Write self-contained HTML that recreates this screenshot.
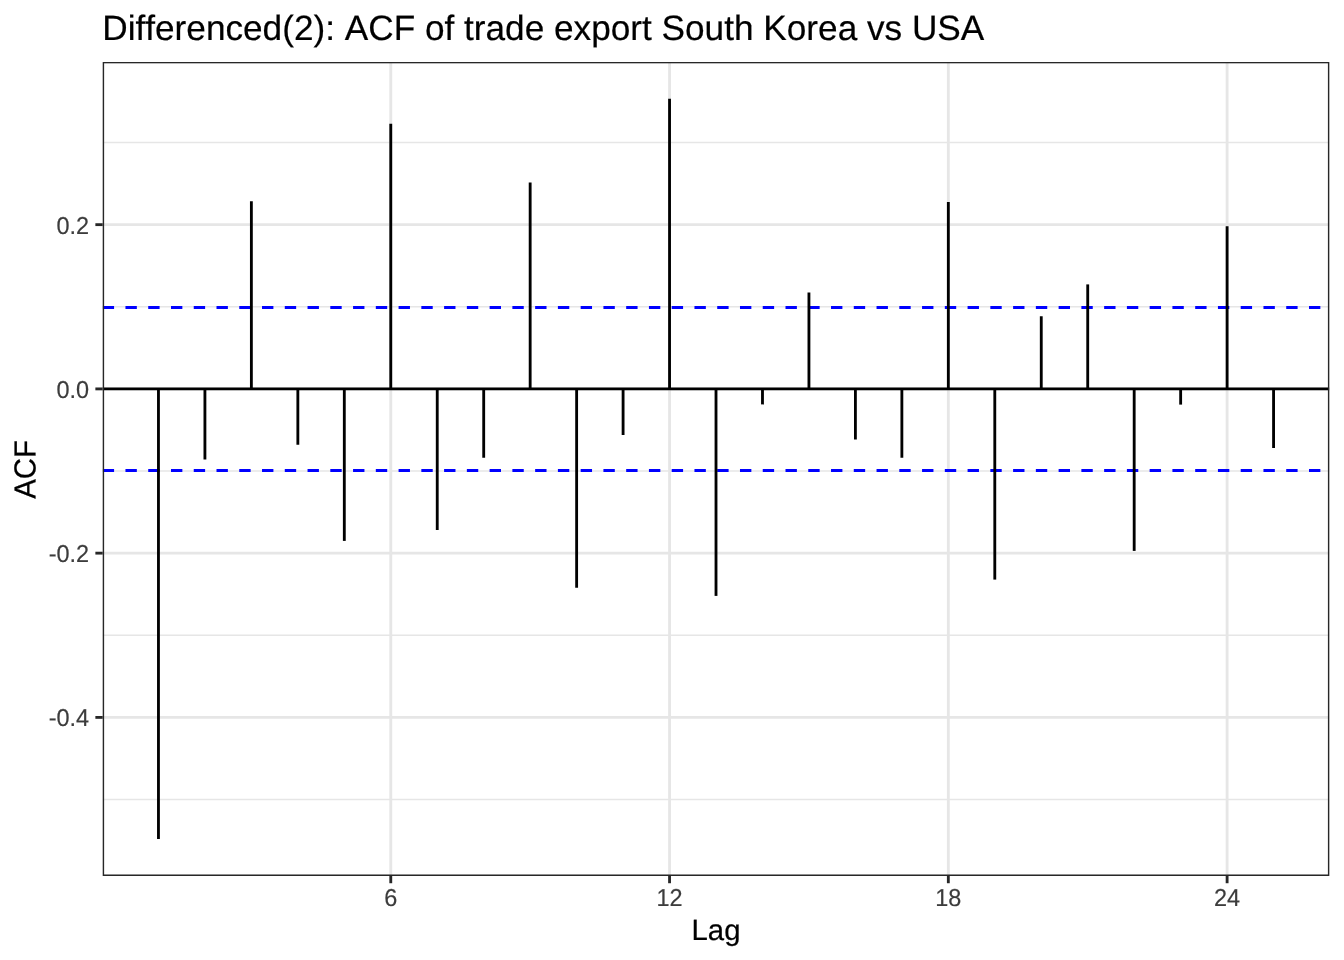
<!DOCTYPE html>
<html><head><meta charset="utf-8"><title>ACF plot</title>
<style>
html,body{margin:0;padding:0;background:#fff;}
body{width:1344px;height:960px;overflow:hidden;font-family:"Liberation Sans",sans-serif;}
svg{display:block;will-change:transform;}
text{font-family:"Liberation Sans",sans-serif;text-rendering:geometricPrecision;font-kerning:none;}
</style></head><body>
<svg width="1344" height="960" viewBox="0 0 1344 960">
<rect x="0" y="0" width="1344" height="960" fill="#ffffff"/>
<defs><clipPath id="panel"><rect x="102.70" y="61.90" width="1226.63" height="814.00"/></clipPath></defs>
<g clip-path="url(#panel)">
<line x1="102.70" x2="1329.33" y1="142.52" y2="142.52" stroke="#E6E6E6" stroke-width="1.423"/>
<line x1="102.70" x2="1329.33" y1="306.77" y2="306.77" stroke="#E6E6E6" stroke-width="1.423"/>
<line x1="102.70" x2="1329.33" y1="471.02" y2="471.02" stroke="#E6E6E6" stroke-width="1.423"/>
<line x1="102.70" x2="1329.33" y1="635.27" y2="635.27" stroke="#E6E6E6" stroke-width="1.423"/>
<line x1="102.70" x2="1329.33" y1="799.52" y2="799.52" stroke="#E6E6E6" stroke-width="1.423"/>
<line x1="102.70" x2="1329.33" y1="224.65" y2="224.65" stroke="#E6E6E6" stroke-width="2.845"/>
<line x1="102.70" x2="1329.33" y1="388.90" y2="388.90" stroke="#E6E6E6" stroke-width="2.845"/>
<line x1="102.70" x2="1329.33" y1="553.15" y2="553.15" stroke="#E6E6E6" stroke-width="2.845"/>
<line x1="102.70" x2="1329.33" y1="717.40" y2="717.40" stroke="#E6E6E6" stroke-width="2.845"/>
<line x1="390.77" x2="390.77" y1="61.90" y2="875.90" stroke="#E6E6E6" stroke-width="2.845"/>
<line x1="669.55" x2="669.55" y1="61.90" y2="875.90" stroke="#E6E6E6" stroke-width="2.845"/>
<line x1="948.33" x2="948.33" y1="61.90" y2="875.90" stroke="#E6E6E6" stroke-width="2.845"/>
<line x1="1227.11" x2="1227.11" y1="61.90" y2="875.90" stroke="#E6E6E6" stroke-width="2.845"/>
<line x1="102.70" x2="1329.33" y1="307.50" y2="307.50" stroke="#0000FF" stroke-width="2.845" stroke-dasharray="11.380 11.380"/>
<line x1="102.70" x2="1329.33" y1="470.50" y2="470.50" stroke="#0000FF" stroke-width="2.845" stroke-dasharray="11.380 11.380"/>
<line x1="102.70" x2="1329.33" y1="388.90" y2="388.90" stroke="#000" stroke-width="2.845"/>
<line x1="158.46" x2="158.46" y1="388.90" y2="838.90" stroke="#000" stroke-width="2.845"/>
<line x1="204.92" x2="204.92" y1="388.90" y2="459.40" stroke="#000" stroke-width="2.845"/>
<line x1="251.38" x2="251.38" y1="388.90" y2="201.25" stroke="#000" stroke-width="2.845"/>
<line x1="297.85" x2="297.85" y1="388.90" y2="444.75" stroke="#000" stroke-width="2.845"/>
<line x1="344.31" x2="344.31" y1="388.90" y2="540.90" stroke="#000" stroke-width="2.845"/>
<line x1="390.77" x2="390.77" y1="388.90" y2="123.75" stroke="#000" stroke-width="2.845"/>
<line x1="437.24" x2="437.24" y1="388.90" y2="530.00" stroke="#000" stroke-width="2.845"/>
<line x1="483.70" x2="483.70" y1="388.90" y2="457.75" stroke="#000" stroke-width="2.845"/>
<line x1="530.16" x2="530.16" y1="388.90" y2="182.50" stroke="#000" stroke-width="2.845"/>
<line x1="576.63" x2="576.63" y1="388.90" y2="587.75" stroke="#000" stroke-width="2.845"/>
<line x1="623.09" x2="623.09" y1="388.90" y2="435.00" stroke="#000" stroke-width="2.845"/>
<line x1="669.55" x2="669.55" y1="388.90" y2="98.75" stroke="#000" stroke-width="2.845"/>
<line x1="716.01" x2="716.01" y1="388.90" y2="595.90" stroke="#000" stroke-width="2.845"/>
<line x1="762.48" x2="762.48" y1="388.90" y2="404.40" stroke="#000" stroke-width="2.845"/>
<line x1="808.94" x2="808.94" y1="388.90" y2="292.50" stroke="#000" stroke-width="2.845"/>
<line x1="855.40" x2="855.40" y1="388.90" y2="439.50" stroke="#000" stroke-width="2.845"/>
<line x1="901.87" x2="901.87" y1="388.90" y2="457.75" stroke="#000" stroke-width="2.845"/>
<line x1="948.33" x2="948.33" y1="388.90" y2="201.90" stroke="#000" stroke-width="2.845"/>
<line x1="994.79" x2="994.79" y1="388.90" y2="579.60" stroke="#000" stroke-width="2.845"/>
<line x1="1041.26" x2="1041.26" y1="388.90" y2="316.25" stroke="#000" stroke-width="2.845"/>
<line x1="1087.72" x2="1087.72" y1="388.90" y2="284.40" stroke="#000" stroke-width="2.845"/>
<line x1="1134.18" x2="1134.18" y1="388.90" y2="550.90" stroke="#000" stroke-width="2.845"/>
<line x1="1180.65" x2="1180.65" y1="388.90" y2="404.60" stroke="#000" stroke-width="2.845"/>
<line x1="1227.11" x2="1227.11" y1="388.90" y2="226.25" stroke="#000" stroke-width="2.845"/>
<line x1="1273.57" x2="1273.57" y1="388.90" y2="447.90" stroke="#000" stroke-width="2.845"/>
<rect x="102.70" y="61.90" width="1226.63" height="814.00" fill="none" stroke="#272727" stroke-width="2.845"/>
</g>
<line x1="95.37" x2="102.70" y1="224.65" y2="224.65" stroke="#272727" stroke-width="2.845"/>
<line x1="95.37" x2="102.70" y1="388.90" y2="388.90" stroke="#272727" stroke-width="2.845"/>
<line x1="95.37" x2="102.70" y1="553.15" y2="553.15" stroke="#272727" stroke-width="2.845"/>
<line x1="95.37" x2="102.70" y1="717.40" y2="717.40" stroke="#272727" stroke-width="2.845"/>
<line x1="390.77" x2="390.77" y1="875.90" y2="883.23" stroke="#272727" stroke-width="2.845"/>
<line x1="669.55" x2="669.55" y1="875.90" y2="883.23" stroke="#272727" stroke-width="2.845"/>
<line x1="948.33" x2="948.33" y1="875.90" y2="883.23" stroke="#272727" stroke-width="2.845"/>
<line x1="1227.11" x2="1227.11" y1="875.90" y2="883.23" stroke="#272727" stroke-width="2.845"/>
<text transform="translate(89.10,234.00) scale(1,1.040)" font-size="23.47" fill="#3C3C3C" stroke="#3C3C3C" stroke-width="0.18" text-anchor="end">0.2</text>
<text transform="translate(89.10,398.00) scale(1,1.040)" font-size="23.47" fill="#3C3C3C" stroke="#3C3C3C" stroke-width="0.18" text-anchor="end">0.0</text>
<text transform="translate(89.10,562.00) scale(1,1.040)" font-size="23.47" fill="#3C3C3C" stroke="#3C3C3C" stroke-width="0.18" text-anchor="end">-0.2</text>
<text transform="translate(89.10,726.00) scale(1,1.040)" font-size="23.47" fill="#3C3C3C" stroke="#3C3C3C" stroke-width="0.18" text-anchor="end">-0.4</text>
<text transform="translate(390.77,906.00) scale(1,1.040)" font-size="23.47" fill="#3C3C3C" stroke="#3C3C3C" stroke-width="0.18" text-anchor="middle">6</text>
<text transform="translate(669.55,906.00) scale(1,1.040)" font-size="23.47" fill="#3C3C3C" stroke="#3C3C3C" stroke-width="0.18" text-anchor="middle">12</text>
<text transform="translate(948.33,906.00) scale(1,1.040)" font-size="23.47" fill="#3C3C3C" stroke="#3C3C3C" stroke-width="0.18" text-anchor="middle">18</text>
<text transform="translate(1227.11,906.00) scale(1,1.040)" font-size="23.47" fill="#3C3C3C" stroke="#3C3C3C" stroke-width="0.18" text-anchor="middle">24</text>
<text x="716.01" y="940.00" font-size="29.33" fill="#000" stroke="#000" stroke-width="0.22" text-anchor="middle">Lag</text>
<text transform="translate(35.60,469.40) rotate(-89.95) scale(1,1.04)" font-size="29.33" fill="#000" stroke="#000" stroke-width="0.22" text-anchor="middle">ACF</text>
<text x="102.25" y="40.00" font-size="35.2" fill="#000" stroke="#000" stroke-width="0.2">Differenced(2): ACF of trade export South Korea vs USA</text>
</svg></body></html>
